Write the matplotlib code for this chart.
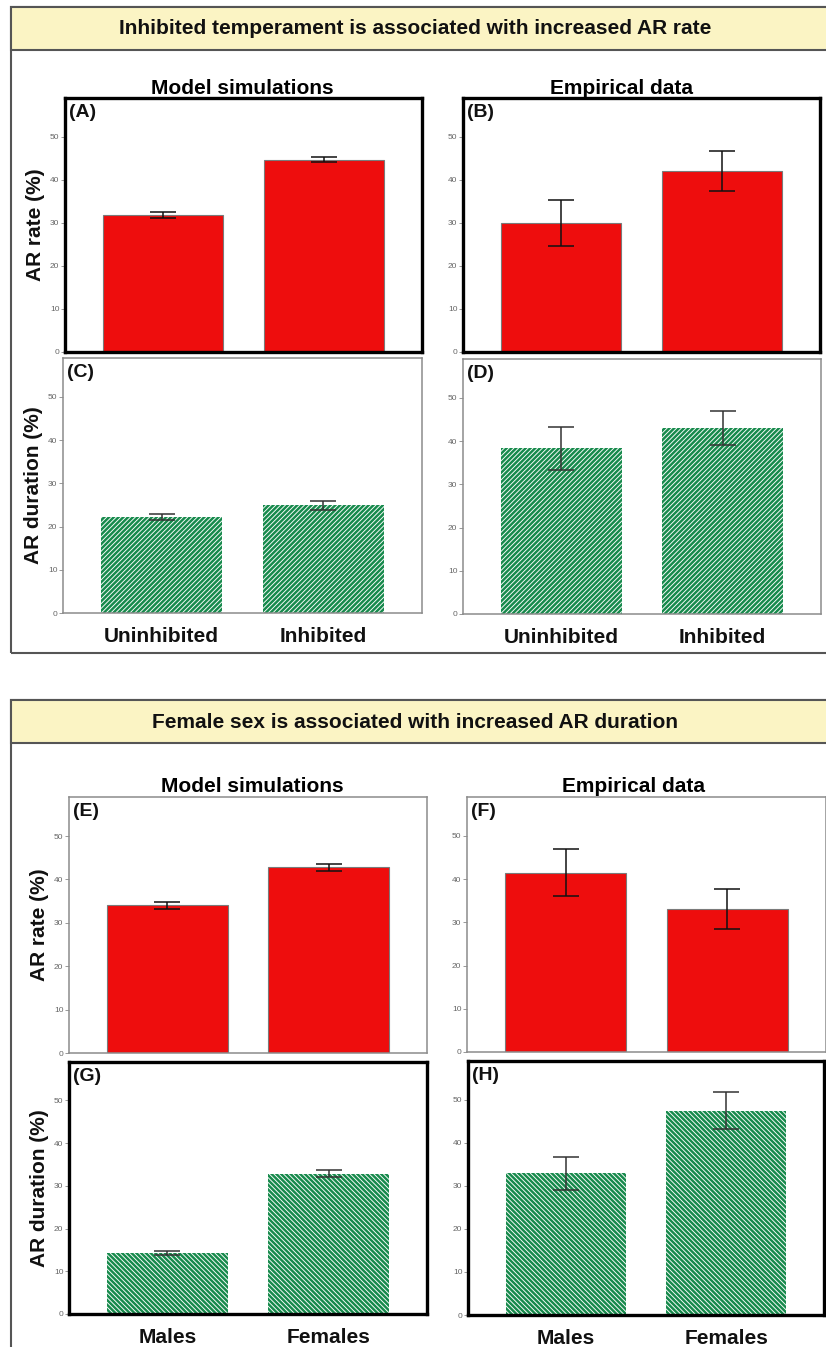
#================================================= LIBRARIES =====================================================
import numpy as np
import matplotlib
matplotlib.use('Agg')
from matplotlib import pyplot as plt
import matplotlib.patches as patches
#=================================================================================================================

#===================================== Data ======================================================================
temp_groups = ['Uninhibited', 'Inhibited']
sex_groups = ['Males', 'Females']

# (A) / (B) AR rate, temperament
rate_temp_model = [31.9, 44.7]
rate_temp_model_err = [0.7, 0.65]
rate_temp_emp = [30.0, 42.0]
rate_temp_emp_err = [5.3, 4.7]

# (C) / (D) AR duration, temperament
dur_temp_model = [22.2, 24.9]
dur_temp_model_err = [0.7, 1.0]
dur_temp_emp = [38.3, 43.0]
dur_temp_emp_err = [4.9, 3.9]

# (E) / (F) AR rate, sex
rate_sex_model = [34.0, 42.8]
rate_sex_model_err = [0.75, 0.85]
rate_sex_emp = [41.5, 33.0]
rate_sex_emp_err = [5.5, 4.65]

# (G) / (H) AR duration, sex
dur_sex_model = [14.3, 32.8]
dur_sex_model_err = [0.5, 0.8]
dur_sex_emp = [32.9, 47.5]
dur_sex_emp_err = [3.8, 4.2]

y_ticks = [0, 10, 20, 30, 40, 50]
#=================================================================================================================

W, H = 826, 1347
RED = '#ee0d0d'
GREEN = '#178a4c'

plt.rcParams['font.family'] = ['Liberation Sans', 'DejaVu Sans']
plt.rcParams['hatch.linewidth'] = 0.65

fig = plt.figure(figsize=(W / 100, H / 100), dpi=100)


def px_axes(x0, y0, x1, y1):
    # pixel box (top-left origin) -> figure axes
    return fig.add_axes([x0 / W, 1 - y1 / H, (x1 - x0) / W, (y1 - y0) / H])


def draw_panel(ax, values, errors, label, kind, thick, xlabels=None, hatch='///////'):
    x = np.arange(len(values))
    if kind == 'rate':
        ax.bar(x, values, width=0.75, color=RED, edgecolor='#7a7a7a', linewidth=0.8, zorder=2)
        ecol = '#111111'
    else:
        ax.bar(x, values, width=0.75, color=GREEN, edgecolor='white', linewidth=0, hatch=hatch, zorder=2)
        ecol = '#333333'
    ax.errorbar(x, values, yerr=errors, fmt='none', ecolor=ecol, elinewidth=1.1,
                capsize=9.5, capthick=1.1, zorder=3)
    ax.set_xlim(-0.61, 1.61)
    ax.set_ylim(0, 59)
    ax.set_yticks(y_ticks)
    ax.tick_params(axis='y', labelsize=6, labelcolor='#666666', color='#888888',
                   length=3, width=0.6, pad=1)
    if xlabels is None:
        ax.set_xticks([])
    else:
        ax.set_xticks(x)
        ax.set_xticklabels(xlabels, fontsize=15, fontweight='bold', color='#111111')
        ax.tick_params(axis='x', length=0, pad=10)
    for s in ax.spines.values():
        if thick:
            s.set_linewidth(2.4)
            s.set_color('black')
        else:
            s.set_linewidth(1.1)
            s.set_color('#8c8c8c')
    ax.text(0.012, 0.975, label, transform=ax.transAxes, ha='left', va='top',
            fontsize=14, fontweight='bold', color='#111111')


def section(y_top, y_bottom, y_band, title, title_base):
    frame = patches.Rectangle((11 / W, 1 - y_bottom / H), (830 - 11) / W, (y_bottom - y_top) / H,
                              transform=fig.transFigure, facecolor='none', edgecolor='#555555',
                              linewidth=1.5, zorder=0)
    band = patches.Rectangle((11 / W, 1 - y_band / H), (830 - 11) / W, (y_band - y_top) / H,
                             transform=fig.transFigure, facecolor='#fbf4c4', edgecolor='#555555',
                             linewidth=1.5, zorder=0)
    fig.add_artist(frame)
    fig.add_artist(band)
    fig.text(415 / W, 1 - title_base / H, title, ha='center', va='baseline',
             fontsize=15, fontweight='bold', color='#111111')


#------------------ Section 1 : temperament ------------------------
section(7, 653, 50, 'Inhibited temperament is associated with increased AR rate', 34)
fig.text(242 / W, 1 - 94 / H, 'Model simulations', ha='center', va='baseline', fontsize=15, fontweight='bold')
fig.text(622 / W, 1 - 94 / H, 'Empirical data', ha='center', va='baseline', fontsize=15, fontweight='bold')

axA = px_axes(65, 98, 422, 352)
draw_panel(axA, rate_temp_model, rate_temp_model_err, '(A)', 'rate', True)
axB = px_axes(463, 98, 820, 352)
draw_panel(axB, rate_temp_emp, rate_temp_emp_err, '(B)', 'rate', True)
axC = px_axes(63, 358, 422, 613)
draw_panel(axC, dur_temp_model, dur_temp_model_err, '(C)', 'dur', False, temp_groups)
axD = px_axes(463, 359, 821, 614)
draw_panel(axD, dur_temp_emp, dur_temp_emp_err, '(D)', 'dur', False, temp_groups)

#------------------ Section 2 : sex ------------------------
section(700, 1400, 743, 'Female sex is associated with increased AR duration', 728)
fig.text(252 / W, 1 - 792 / H, 'Model simulations', ha='center', va='baseline', fontsize=15, fontweight='bold')
fig.text(633 / W, 1 - 792 / H, 'Empirical data', ha='center', va='baseline', fontsize=15, fontweight='bold')

axE = px_axes(69, 797, 427, 1053)
draw_panel(axE, rate_sex_model, rate_sex_model_err, '(E)', 'rate', False)
axF = px_axes(467, 797, 826, 1052)
draw_panel(axF, rate_sex_emp, rate_sex_emp_err, '(F)', 'rate', False)
axG = px_axes(69, 1062, 427, 1314)
draw_panel(axG, dur_sex_model, dur_sex_model_err, '(G)', 'dur', True, sex_groups, hatch='\\' * 7)
axH = px_axes(468, 1061, 824, 1315)
draw_panel(axH, dur_sex_emp, dur_sex_emp_err, '(H)', 'dur', True, sex_groups, hatch='\\' * 7)

#------------------ Y labels ------------------------
for ax, txt in [(axA, 'AR rate (%)'), (axC, 'AR duration (%)'), (axE, 'AR rate (%)'), (axG, 'AR duration (%)')]:
    ax.set_ylabel(txt, fontsize=15, fontweight='bold', color='#111111')
    ax.yaxis.set_label_coords(-0.056, 0.5)

fig.savefig('out.png', dpi=100)
